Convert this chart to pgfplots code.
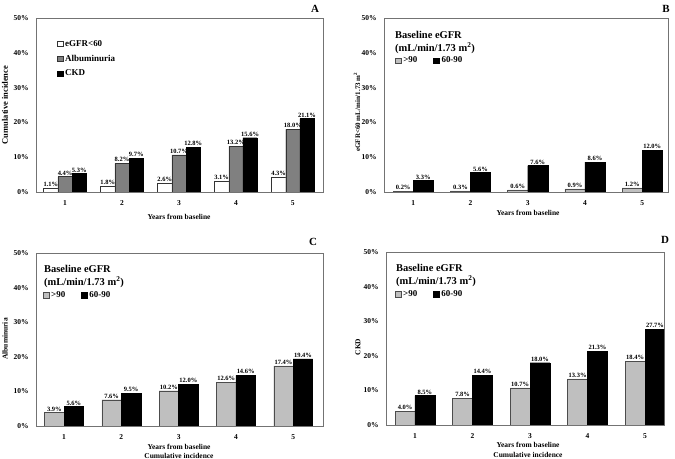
\documentclass[border=0pt]{standalone}
\usepackage{fontspec}
\setmainfont{Liberation Serif}
\usepackage{pgfplots}
\pgfplotsset{compat=1.18}
\definecolor{dgray}{HTML}{808080}
\definecolor{lgray}{HTML}{BFBFBF}
\newcommand{\fs}[1]{\fontsize{#1}{#1}\selectfont\bfseries}
\pgfplotsset{
  panel/.style={
    scale only axis, anchor=south west,
    ymin=0, ymax=50, ytick={0,10,...,50}, xtick={1,2,3,4,5},
    yticklabel={\pgfmathprintnumber{\tick}\%},
    /pgf/number format/assume math mode=true,
    tick style={draw=none},
    axis line style={draw=black!55, line width=0.8pt},
    ybar=0pt,
    every tick label/.append style={font=\fs{7.5}},
    xticklabel style={yshift=-3.5bp, inner sep=1pt},
    yticklabel style={xshift=-4bp},
    nodes near coords={\pgfmathprintnumber[fixed,fixed zerofill,precision=1]{\pgfplotspointmeta}\%},
    every node near coord/.append style={font=\fs{6.5}, inner sep=1.2pt, black},
    legend image code/.code={\draw[#1, line width=0.6pt] (0bp,-2.6bp) rectangle (5.5bp,2.6bp);},
    legend style={draw=none, fill=none, inner sep=0pt, font=\fs{9}, anchor=north west, cells={anchor=west}},
  },
}
\begin{document}
\begin{tikzpicture}
\path[use as bounding box] (0bp,0bp) rectangle (675bp,459bp);

% ---------- Panel A ----------
\begin{axis}[panel, at={(36bp,267bp)}, width=287bp, height=174bp,
  xmin=0.49, xmax=5.53, bar width=0.25,
  legend style={at={(0.073,0.885)}, row sep=3.2bp}]
\addplot[fill=white, draw=black!80, bar shift=-0.25] coordinates {(1,1.1) (2,1.8) (3,2.6) (4,3.1) (5,4.3)};
\addplot[fill=dgray, draw=black!80, bar shift=0] coordinates {(1,4.4) (2,8.2) (3,10.7) (4,13.2) (5,18.0)};
\addplot[fill=black, draw=black, bar shift=0.25] coordinates {(1,5.3) (2,9.7) (3,12.8) (4,15.6) (5,21.1)};
\legend{eGFR\textless60, Albuminuria, CKD}
\draw[black, line width=0.8pt] (rel axis cs:0,0) -- (rel axis cs:1,0);
\end{axis}

% ---------- Panel B ----------
\begin{axis}[panel, at={(384bp,267bp)}, width=284bp, height=174bp,
  xmin=0.49, xmax=5.45, bar width=0.35,
  legend columns=2,
  legend style={at={(0.039,0.79)}, /tikz/every even column/.append style={column sep=14bp}}]
\addplot[fill=lgray, draw=black!70, bar shift=-0.175] coordinates {(1,0.2) (2,0.3) (3,0.6) (4,0.9) (5,1.2)};
\addplot[fill=black, draw=black, bar shift=0.175] coordinates {(1,3.3) (2,5.6) (3,7.6) (4,8.6) (5,12.0)};
\legend{\textgreater90, 60-90}
\draw[black, line width=0.8pt] (rel axis cs:0,0) -- (rel axis cs:1,0);
\end{axis}

% ---------- Panel C ----------
\begin{axis}[panel, at={(36bp,33bp)}, width=287bp, height=173bp,
  xmin=0.51, xmax=5.52, bar width=0.34,
  legend columns=2,
  legend style={at={(0.024,0.79)}, /tikz/every even column/.append style={column sep=14bp}}]
\addplot[fill=lgray, draw=black!70, bar shift=-0.17] coordinates {(1,3.9) (2,7.6) (3,10.2) (4,12.6) (5,17.4)};
\addplot[fill=black, draw=black, bar shift=0.17] coordinates {(1,5.6) (2,9.5) (3,12.0) (4,14.6) (5,19.4)};
\legend{\textgreater90, 60-90}
\draw[black, line width=0.8pt] (rel axis cs:0,0) -- (rel axis cs:1,0);
\end{axis}

% ---------- Panel D ----------
\begin{axis}[panel, at={(386bp,34bp)}, width=278bp, height=173bp,
  xmin=0.496, xmax=5.33, bar width=0.345,
  legend columns=2,
  legend style={at={(0.032,0.79)}, /tikz/every even column/.append style={column sep=14bp}}]
\addplot[fill=lgray, draw=black!70, bar shift=-0.1725] coordinates {(1,4.0) (2,7.8) (3,10.7) (4,13.3) (5,18.4)};
\addplot[fill=black, draw=black, bar shift=0.1725] coordinates {(1,8.5) (2,14.4) (3,18.0) (4,21.3) (5,27.7)};
\legend{\textgreater90, 60-90}
\draw[black, line width=0.8pt] (rel axis cs:0,0) -- (rel axis cs:1,0);
\end{axis}

% ---------- texts ----------
\begin{scope}[x=1bp,y=1bp]
\node[font=\fs{11}] at (315,450) {A};
\node[font=\fs{11}] at (666,450) {B};
\node[font=\fs{11}] at (313,217) {C};
\node[font=\fs{11}] at (665,219) {D};

\node[font=\fs{7.5}, inner sep=1pt] at (179,242) {Years from baseline};
\node[font=\fs{7.5}, inner sep=1pt] at (528,246) {Years from baseline};
\node[font=\fs{7.5}, inner sep=1pt] at (179,12.5) {Years from baseline};
\node[font=\fs{7.5}, inner sep=1pt] at (179,3.5) {Cumulative incidence};
\node[font=\fs{7.5}, inner sep=1pt] at (528,14) {Years from baseline};
\node[font=\fs{7.5}, inner sep=1pt] at (528,4.5) {Cumulative incidence};

\node[font=\fs{8.5}, rotate=90] at (5,354) {Cumulative incidence};
\node[font=\fs{7}, rotate=90] at (357,347) {eGFR\textless60 mL/min/1.73 m\textsuperscript{2}};
\node[font=\fs{7.5}, rotate=90] at (5,120) {Albuminuria};
\node[font=\fs{7.5}, rotate=90] at (358,112) {CKD};

\node[font=\fs{10.5}, anchor=west, inner sep=0pt] at (395,424) {Baseline eGFR};
\node[font=\fs{10.5}, anchor=west, inner sep=0pt] at (395,411) {(mL/min/1.73 m\textsuperscript{2})};
\node[font=\fs{10.5}, anchor=west, inner sep=0pt] at (44,190) {Baseline eGFR};
\node[font=\fs{10.5}, anchor=west, inner sep=0pt] at (44,177) {(mL/min/1.73 m\textsuperscript{2})};
\node[font=\fs{10.5}, anchor=west, inner sep=0pt] at (396,191) {Baseline eGFR};
\node[font=\fs{10.5}, anchor=west, inner sep=0pt] at (396,178) {(mL/min/1.73 m\textsuperscript{2})};
\end{scope}
\end{tikzpicture}
\end{document}
